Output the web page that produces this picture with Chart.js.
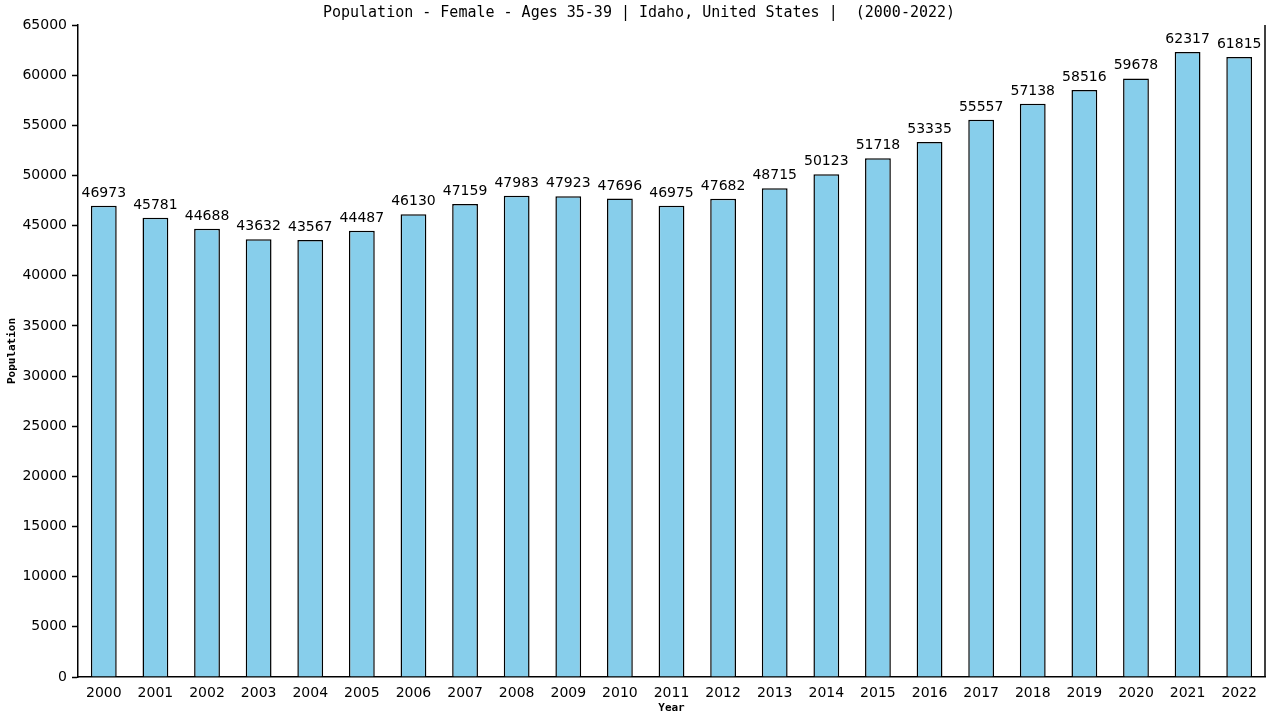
<!DOCTYPE html>
<html>
<head>
<meta charset="utf-8">
<script src="https://cdn.jsdelivr.net/npm/chart.js@4"></script>
<style>
  html, body { margin: 0; padding: 0; background: #fff; }
  canvas { display: block; }
</style>
</head>
<body>
<canvas id="myChart" width="1280" height="720"></canvas>
<script>
const years = ['2000', '2001', '2002', '2003', '2004', '2005', '2006', '2007', '2008', '2009', '2010', '2011',
  '2012', '2013', '2014', '2015', '2016', '2017', '2018', '2019', '2020', '2021', '2022'];
const population = [46973, 45781, 44688, 43632, 43567, 44487, 46130, 47159, 47983, 47923, 47696, 46975,
  47682, 48715, 50123, 51718, 53335, 55557, 57138, 58516, 59678, 62317, 61815];
const yTicks = [0, 5000, 10000, 15000, 20000, 25000, 30000, 35000, 40000, 45000, 50000, 55000, 60000, 65000];
const chartTitle = 'Population - Female - Ages 35-39 | Idaho, United States |  (2000-2022)';

const monoFont = '"DejaVu Sans Mono", "Liberation Mono", monospace';
const sansFont = '"DejaVu Sans", Verdana, sans-serif';

// title, value labels and the right-hand frame line
const extras = {
  id: 'extras',
  afterDatasetsDraw(chart) {
    const ctx = chart.ctx;
    const area = chart.chartArea;
    ctx.save();
    ctx.fillStyle = '#000';
    ctx.font = '15px ' + monoFont;
    ctx.textAlign = 'center';
    ctx.textBaseline = 'middle';
    ctx.fillText(chartTitle, 639, 13);

    ctx.font = '14px ' + sansFont;
    ctx.textBaseline = 'alphabetic';
    const meta = chart.getDatasetMeta(0);
    meta.data.forEach((bar, i) => {
      ctx.fillText(String(population[i]), bar.x, bar.y - 9);
    });

    ctx.strokeStyle = '#000';
    ctx.lineWidth = 1.5;
    ctx.beginPath();
    ctx.moveTo(area.right, area.top);
    ctx.lineTo(area.right, area.bottom);
    ctx.stroke();
    ctx.restore();
  }
};

const chartContext = document.getElementById('myChart').getContext('2d');
const myChart = new Chart(chartContext, {
  type: 'bar',
  data: {
    labels: years,
    datasets: [{
      data: population,
      backgroundColor: '#87CEEB',
      borderColor: '#000000',
      borderWidth: { top: 1.5, left: 1.5, right: 1.5, bottom: 0 },
      borderSkipped: 'bottom',
      barPercentage: 0.5,
      categoryPercentage: 1.0
    }]
  },
  options: {
    responsive: false,
    animation: false,
    layout: { padding: { top: 25, right: 15, left: 0, bottom: 0 } },
    plugins: {
      legend: { display: false },
      tooltip: { enabled: false }
    },
    scales: {
      x: {
        grid: { display: false },
        border: { display: true, color: '#000', width: 1.5 },
        ticks: {
          color: '#000',
          font: { family: sansFont, size: 14 },
          maxRotation: 0,
          autoSkip: false,
          padding: 0
        },
        title: {
          display: true,
          text: 'Year',
          color: '#000',
          font: { family: monoFont, size: 11, weight: 'bold' },
          padding: { top: 0, bottom: 5 }
        },
        afterFit(scale) { scale.height = 43; }
      },
      y: {
        min: 0,
        max: 65000,
        afterBuildTicks(scale) { scale.ticks = yTicks.map(v => ({ value: v })); },
        grid: {
          display: true,
          drawOnChartArea: false,
          drawTicks: true,
          tickLength: 6,
          tickWidth: 1.5,
          tickColor: '#000',
          color: '#000'
        },
        border: { display: true, color: '#000', width: 1.5 },
        ticks: {
          color: '#000',
          font: { family: sansFont, size: 14 },
          padding: 5,
          callback: (value) => String(value)
        },
        title: {
          display: true,
          text: 'Population',
          color: '#000',
          font: { family: monoFont, size: 11, weight: 'bold' },
          padding: { top: 6, bottom: 0 }
        },
        afterFit(scale) { scale.width = 78; }
      }
    }
  },
  plugins: [extras]
});
</script>
</body>
</html>
